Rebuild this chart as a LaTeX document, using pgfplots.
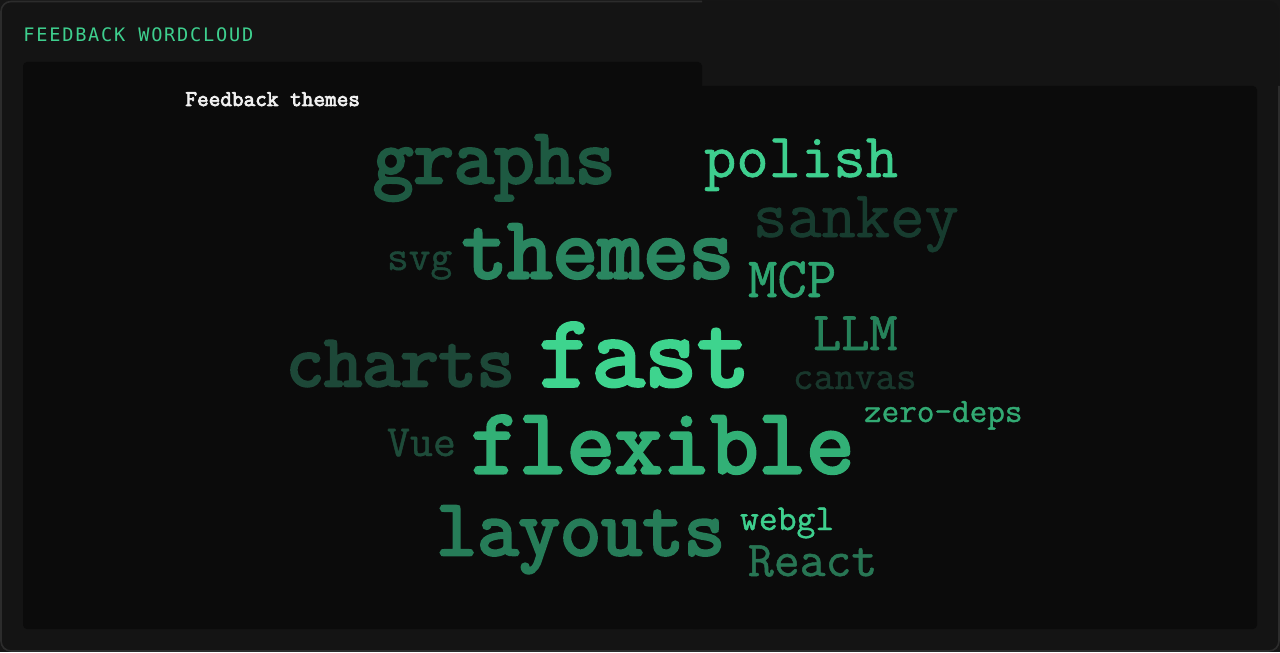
\documentclass[border=0pt]{standalone}
\usepackage{pgfplots}
\pgfplotsset{compat=1.18}
\usepackage{fontspec}
\newfontfamily\titlefont[LetterSpace=9.5]{DejaVu Sans Mono}
\newfontfamily\rmono[FakeBold=1]{Latin Modern Mono}
\newfontfamily\bmono[FakeBold=3.5]{Latin Modern Mono}

\definecolor{pagebg}{RGB}{22,22,22}
\definecolor{cardbg}{RGB}{20,20,20}
\definecolor{cardline}{RGB}{44,44,44}
\definecolor{panelbg}{RGB}{11,11,11}
\definecolor{accent}{RGB}{62,207,142}

% word: x (left, px), y (baseline, px), size (pt), colour, face, text
\newcommand{\word}[6]{%
  \addplot[only marks, mark=none, point meta=explicit symbolic,
    nodes near coords,
    every node near coord/.append style={anchor=base west, inner sep=0pt,
      outer sep=0pt, text=#4, font=#5\fontsize{#3}{#3}\selectfont}]
    coordinates {(#1,#2) [#6]};}

\begin{document}
\begin{tikzpicture}
\begin{axis}[
  scale only axis, width=640pt, height=326pt,
  xmin=0, xmax=1280, ymin=0, ymax=652, y dir=reverse,
  hide axis, clip=false]
  % card and panel
  \fill[pagebg] (axis cs:0,0) rectangle (axis cs:1280,652);
  \fill[cardbg, rounded corners=5pt] (axis cs:1,1) rectangle (axis cs:1279,651);
  \draw[cardline, line width=0.8pt, rounded corners=5pt]
    (axis cs:702,1.5) -- (axis cs:1,1.5) -- (axis cs:1,651) -- (axis cs:1279,651) -- (axis cs:1279,86);
  \fill[panelbg, rounded corners=2pt] (axis cs:23,62) rectangle (axis cs:702,629);
  \fill[panelbg, rounded corners=2pt] (axis cs:690,86) rectangle (axis cs:1257,629);
  \node[anchor=base west, inner sep=0pt, text=accent, font=\titlefont\fontsize{9.3}{10}\selectfont]
    at (axis cs:23,42) {FEEDBACK WORDCLOUD};
  \node[anchor=base west, inner sep=0pt, text=white!94!black, font=\bmono\fontsize{11.3}{12}\selectfont]
    at (axis cs:185,106) {Feedback themes};

  \definecolor{wgraphs}{RGB}{30,90,66}
  \definecolor{wpolish}{RGB}{62,207,142}
  \definecolor{wsankey}{RGB}{23,60,47}
  \definecolor{wsvg}{RGB}{28,72,56}
  \definecolor{wthemes}{RGB}{42,134,96}
  \definecolor{wmcp}{RGB}{46,165,113}
  \definecolor{wllm}{RGB}{38,130,90}
  \definecolor{wcanvas}{RGB}{24,55,44}
  \definecolor{wzero}{RGB}{50,170,115}
  \definecolor{wcharts}{RGB}{29,72,56}
  \definecolor{wfast}{RGB}{62,212,142}
  \definecolor{wvue}{RGB}{30,76,58}
  \definecolor{wflex}{RGB}{50,176,118}
  \definecolor{wlayouts}{RGB}{38,124,88}
  \definecolor{wwebgl}{RGB}{62,207,142}
  \definecolor{wreact}{RGB}{40,118,84}

  \word{373}{183}{39.2}{wgraphs}{\bmono}{graphs}
  \word{704}{177}{31.4}{wpolish}{\rmono}{polish}
  \word{753}{237}{33.3}{wsankey}{\rmono}{sankey}
  \word{387}{270}{21.1}{wsvg}{\rmono}{svg}
  \word{462}{278}{44}{wthemes}{\bmono}{themes}
  \word{748}{297}{28.6}{wmcp}{\rmono}{MCP}
  \word{813}{350}{27.4}{wllm}{\rmono}{LLM}
  \word{793}{389}{20}{wcanvas}{\rmono}{canvas}
  \word{864}{422}{17.1}{wzero}{\rmono}{zero-deps}
  \word{286}{386}{37}{wcharts}{\bmono}{charts}
  \word{539}{386}{51.2}{wfast}{\bmono}{fast}
  \word{387}{456}{22.3}{wvue}{\rmono}{Vue}
  \word{471}{473}{46.5}{wflex}{\bmono}{flexible}
  \word{436}{555}{40.1}{wlayouts}{\bmono}{layouts}
  \word{740}{530}{18.3}{wwebgl}{\rmono}{webgl}
  \word{748}{576}{25.1}{wreact}{\rmono}{React}
\end{axis}
\end{tikzpicture}
\end{document}
